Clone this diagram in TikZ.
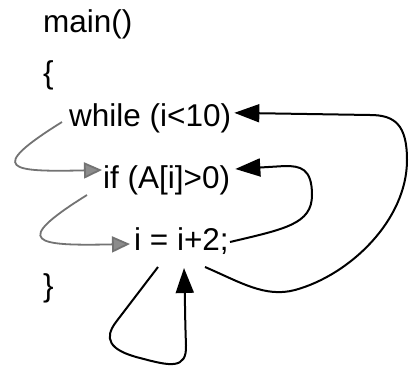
\documentclass[tikz,border=0pt]{standalone}
\usepackage{fontspec}
\setmainfont{Liberation Sans}
\usetikzlibrary{arrows.meta}
\begin{document}
\begin{tikzpicture}[x=1pt,y=-1pt,
  code/.style={inner sep=0pt,anchor=base west,font=\fontsize{31.5}{36}\selectfont},
  grayarrow/.style={draw=black!55,line width=1.8pt,-{Triangle[length=18pt,width=16pt,fill=black!45]}},
  blackarrow/.style={draw=black,line width=2pt,-{Triangle[length=25pt,width=18pt]}}]
\useasboundingbox (0,0) rectangle (410,367);
\node[code] (main) at (43,32) {main()};
\node[code] (ob) at (43,83) {\{};
\node[code] (wh) at (69,126) {while (i<10)};
\node[code] (if) at (103,188) {if (A[i]>0)};
\node[code] (inc) at (134,250) {i = i+2;};
\node[code] (cb) at (43,296) {\}};
% gray arrows
\coordinate (g1s) at (62,122);
\coordinate (g2s) at (87,195);
\draw[grayarrow] (g1s) .. controls (-15,170) and (10,172) .. ([shift={(-1,-18)}]if.base west);
\draw[grayarrow] (g2s) .. controls (10,243) and (35,246) .. ([shift={(-4,-6)}]inc.base west);
% black arrows
\coordinate (a1) at (230,242);
\draw[blackarrow] (a1) .. controls (285,229) and (312,224) .. (312,195)
  .. controls (312,168) and (300,166) .. (285,166) -- ([shift={(5,-19)}]if.base east);
\coordinate (b1) at (205,267);
\draw[blackarrow] (b1) .. controls (240,282) and (265,298) .. (295,290)
  .. controls (350,275) and (407,220) .. (407,160)
  .. controls (407,125) and (395,115) .. (370,115) -- ([shift={(3,-5)}]wh.east);
\coordinate (c1) at (158,267);
\draw[blackarrow] (c1) -- (116,322) .. controls (104,338) and (108,350) .. (140,358)
  .. controls (170,366) and (187,370) .. (186,345) .. controls (185,320) and (185,300) .. (184,268);
\end{tikzpicture}
\end{document}
